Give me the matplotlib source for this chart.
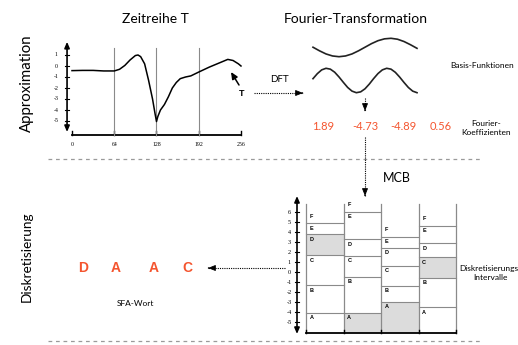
import numpy as np
import matplotlib.pyplot as plt

W, H = 518, 345
RED = '#f4552f'
GREY = '#8a8a8a'
plt.rcParams['font.family'] = ['Lato', 'DejaVu Sans']

# Zeitreihe T
ts_t = [0, 16, 32, 48, 64, 72, 80, 88, 96, 100, 104, 110, 116, 122, 126, 128,
        130, 134, 140, 146, 152, 158, 164, 172, 180, 192, 208, 224, 236, 244, 252, 256]
ts_v = [-0.42, -0.40, -0.40, -0.45, -0.45, -0.30, 0.05, 0.55, 0.95, 1.0, 0.85, 0.2,
        -1.3, -3.0, -4.4, -5.05, -4.6, -4.0, -3.5, -2.8, -2.0, -1.5, -1.15, -1.0,
        -0.9, -0.55, -0.1, 0.3, 0.6, 0.5, 0.2, 0.0]
ts_xticks = [0, 64, 128, 192, 256]
ts_yticks = [1, 0, -1, -2, -3, -4, -5]

# Basis-Funktionen (normalised amplitude)
basis_1 = [0.03, -0.36, -0.70, -0.92, -1.00, -0.92, -0.70, -0.36, 0.03, 0.42,
           0.74, 0.94, 1.00, 0.90, 0.65, 0.30, -0.09]
basis_2 = [0.15, 0.56, 0.87, 1.00, 0.93, 0.68, 0.29, -0.15, -0.57, -0.87, -1.00,
           -0.93, -0.68, -0.29, 0.16, 0.57, 0.87, 1.00, 0.93, 0.67, 0.28, -0.16,
           -0.57, -0.87, -1.00]

coeffs = [1.89, -4.73, -4.89, 0.56]

# MCB breakpoints per coefficient (A|B, B|C, C|D, D|E, E|F)
mcb_bins = [[-4.07, -1.33, 1.67, 3.77, 4.87],
            [-4.07, -0.47, 1.60, 3.27, 6.03],
            [-2.97, -1.40, 0.60, 2.43, 3.53],
            [-3.53, -0.57, 1.47, 2.87, 4.60]]
mcb_letters = ['A', 'B', 'C', 'D', 'E', 'F']
mcb_yticks = [6, 5, 4, 3, 2, 1, 0, -1, -2, -3, -4, -5]

sfa_word = [mcb_letters[int(np.searchsorted(b, c))] for b, c in zip(mcb_bins, coeffs)]

fig = plt.figure(figsize=(W / 100, H / 100), dpi=100)
base = fig.add_axes([0, 0, 1, 1])
base.set_xlim(0, W)
base.set_ylim(H, 0)
base.axis('off')


def sub_axes(xlim, ylim, xpx, ypx):
    # xpx: pixel x of the xlim ends, ypx: pixel y (from top) of the ylim ends
    l, r = xpx
    b, t = ypx
    ax = fig.add_axes([l / W, 1 - b / H, (r - l) / W, (b - t) / H])
    ax.set_xlim(xlim)
    ax.set_ylim(ylim)
    ax.axis('off')
    return ax


def dotted_arrow(ax, x0, y0, x1, y1):
    ax.plot([x0, x1], [y0, y1], ls=(0, (1, 1)), lw=0.8, c='k', clip_on=False)
    dx, dy = x1 - x0, y1 - y0
    n = np.hypot(dx, dy)
    ax.annotate('', xy=(x1, y1), xytext=(x1 - dx / n * 0.5, y1 - dy / n * 0.5),
                arrowprops=dict(arrowstyle='-|>,head_length=0.45,head_width=0.18',
                                lw=0.6, color='k', shrinkA=0, shrinkB=0))


def double_arrow(ax, x, y0, y1):
    ax.annotate('', xy=(x, y1), xytext=(x, y0), annotation_clip=False,
                arrowprops=dict(arrowstyle='<|-|>,head_length=0.35,head_width=0.15',
                                lw=1.2, color='k', shrinkA=0, shrinkB=0))


# titles and row labels
base.text(155, 19, 'Zeitreihe T', ha='center', va='center', fontsize=10)
base.text(356, 19, 'Fourier-Transformation', ha='center', va='center', fontsize=10)
base.text(27, 83, 'Approximation', ha='center', va='center', rotation=90, fontsize=10.8)
base.text(27, 257, 'Diskretisierung', ha='center', va='center', rotation=90, fontsize=9.8)

# separators
for y in (159, 341):
    base.plot([48, 482], [y, y], ls=(0, (3, 3)), lw=0.9, c='#9a9a9a')

# --- time series ---
ts = sub_axes((-12, 262), (-6.6, 2.4), (64.08, 244.95), (138.6, 39.6))
double_arrow(ts, -7.5, -6.0, 2.2)
for v in ts_yticks:
    ts.plot([-10.5, -4.5], [v, v], c='k', lw=0.8, clip_on=False)
    ts.text(-24, v, str(v), ha='center', va='center', fontsize=4.2, family='Liberation Serif')
ts.plot([0, 256], [-6.27, -6.27], c='k', lw=1.3, clip_on=False)
for t in ts_xticks:
    ts.plot([t, t], [-6.27, -5.95], c='k', lw=1.0, clip_on=False)
    ts.text(t, -7.1, str(t), ha='center', va='center', fontsize=4.2, family='Liberation Serif')
for t in ts_xticks[1:-1]:
    ts.plot([t, t], [-6.27, 1.6], c=GREY, lw=0.8)
ts.plot(ts_t, ts_v, c='k', lw=1.1, solid_joinstyle='round')

base.text(242, 93, 'T', ha='center', va='center', fontsize=6.5, fontweight='bold',
          family='Liberation Sans')
base.annotate('', xy=(231, 72), xytext=(239, 85),
              arrowprops=dict(arrowstyle='-|>,head_length=0.4,head_width=0.18',
                              lw=1.1, color='k', shrinkA=0, shrinkB=0))

# DFT
base.text(279, 80, 'DFT', ha='center', va='center', fontsize=7)
dotted_arrow(base, 254, 93, 303, 93)

# basis functions
b1 = sub_axes((0, 1), (-1, 1), (313, 417), (56.7, 38.3))
b1.plot(np.linspace(0, 1, len(basis_1)), basis_1, c='#222222', lw=1.2, clip_on=False)
b2 = sub_axes((0, 1), (-1, 1), (313, 417), (92.7, 68.3))
b2.plot(np.linspace(0, 1, len(basis_2)), basis_2, c='#222222', lw=1.2, clip_on=False)
base.text(450, 66, 'Basis-Funktionen', ha='left', va='center', fontsize=6)

dotted_arrow(base, 365, 98, 365, 111)

# Fourier coefficients
for x, c in zip([323, 365, 403, 441], coeffs):
    base.text(x, 127, f'{c:.2f}', ha='center', va='center', fontsize=8, color=RED)
base.text(486, 128, 'Fourier-\nKoeffizienten', ha='center', va='center',
          fontsize=6, linespacing=1.2)

dotted_arrow(base, 365, 137, 365, 196)
base.text(397, 178, 'MCB', ha='center', va='center', fontsize=9)

# --- MCB ---
mcb = sub_axes((-0.6, 4.2), (-6.5, 8.0), (283.5, 463.5), (337, 192))
col_bottom, col_top = -6.1, 6.8
double_arrow(mcb, -0.24, -6.2, 7.6)
for v in mcb_yticks:
    mcb.plot([-0.29, -0.19], [v, v], c='k', lw=0.8, clip_on=False)
    mcb.text(-0.45, v, str(v), ha='center', va='center', fontsize=4.5, family='Liberation Serif')
for i, (bins, c) in enumerate(zip(mcb_bins, coeffs)):
    edges = [col_bottom] + bins + [col_top]
    k = int(np.searchsorted(bins, c))
    mcb.fill_between([i, i + 1], edges[k], edges[k + 1], color='#dcdcdc', lw=0)
    for b in bins:
        mcb.plot([i, i + 1], [b, b], c=GREY, lw=0.8)
    for j, letter in enumerate(mcb_letters):
        y = edges[j + 1] - 0.5 if j < 5 else bins[-1] + 0.7
        mcb.text(i + 0.1, y, letter, ha='left', va='center', fontsize=4,
                 fontweight='bold', family='Liberation Sans')
for i in range(5):
    mcb.plot([i, i], [col_bottom, col_top], c=GREY, lw=0.9)
    mcb.plot([i, i], [col_bottom, col_bottom + 0.3], c='k', lw=1.0)
mcb.plot([0, 4], [col_bottom, col_bottom], c='k', lw=1.3)

base.text(490, 273, 'Diskretisierungs-\nIntervalle', ha='center', va='center',
          fontsize=6, linespacing=1.2)

# SFA word
dotted_arrow(base, 285, 268, 208, 268)
for x, s in zip([83, 116, 154, 187], sfa_word):
    base.text(x, 268, s, ha='center', va='center', fontsize=10, fontweight='bold',
              color=RED, family='Liberation Sans')
base.text(135, 303, 'SFA-Wort', ha='center', va='center', fontsize=6)

fig.savefig('out.png', dpi=100)
